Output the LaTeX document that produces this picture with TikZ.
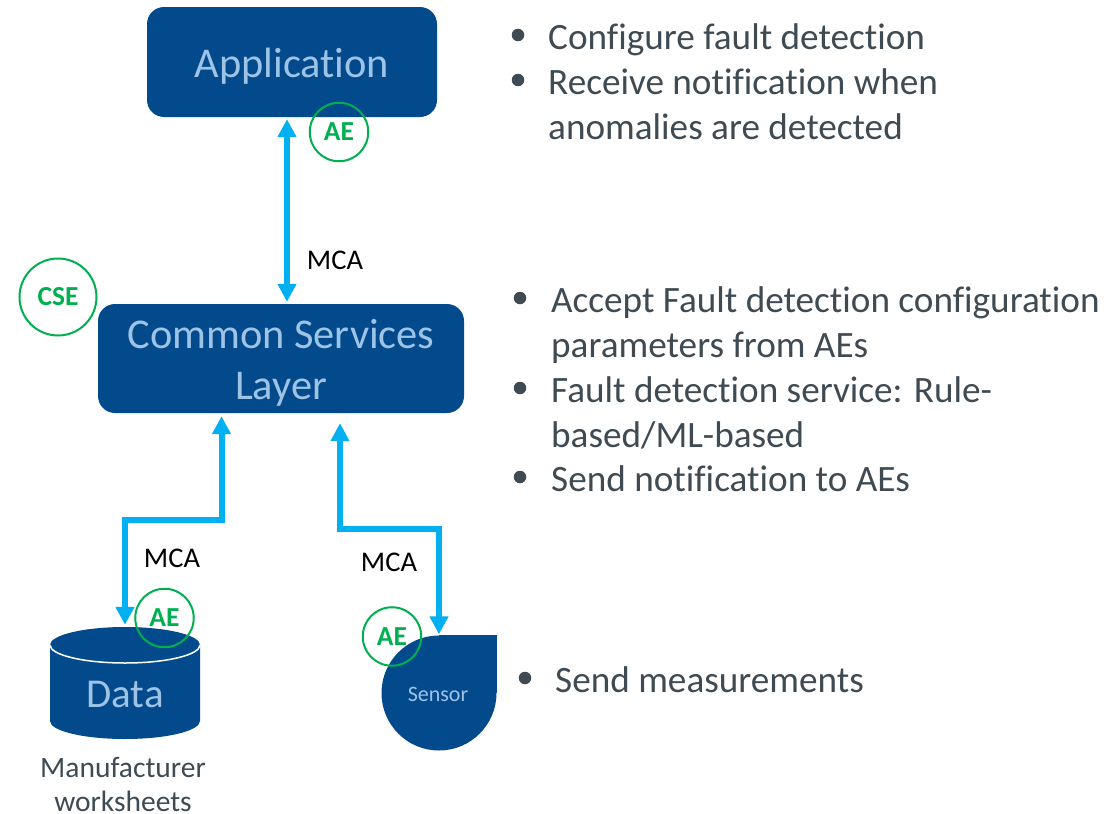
\documentclass[tikz,border=0pt]{standalone}
\usepackage{fontspec}
\setmainfont{Carlito}[Ligatures=CommonOff]
\usetikzlibrary{arrows.meta}
\definecolor{boxblue}{HTML}{034A8C}
\definecolor{boxtext}{HTML}{9DC3E6}
\definecolor{linkblue}{HTML}{00B0F0}
\definecolor{aegreen}{HTML}{00B050}
\definecolor{listgrey}{HTML}{3F4A53}
\tikzset{
  box/.style={draw=none, fill=boxblue, rectangle, rounded corners=17pt, text=boxtext, align=center, font=\fontsize{42.4}{51}\selectfont},
  tag/.style={draw=aegreen, circle, line width=2pt, inner sep=0pt, text=aegreen, font=\fontsize{27.5}{30}\selectfont\bfseries},
  link/.style={draw=linkblue, line width=6pt, {Triangle[length=18pt,width=18pt]}-{Triangle[length=18pt,width=18pt]}},
  mca/.style={text=black, inner sep=0pt, font=\fontsize{28.5}{30}\selectfont},
  dot/.style={fill=listgrey, circle, inner sep=0pt, minimum size=12.5pt},
  listtext/.style={anchor=north west, xshift=30pt, yshift=11.5pt, inner sep=0pt, align=left, text=listgrey, font=\fontsize{37.2}{44.7}\selectfont},
}
\begin{document}
\begin{tikzpicture}[x=1pt, y=-1pt]
  \useasboundingbox (0,0) rectangle (1112,814);
  % boxes
  \node[box, minimum width=290pt, minimum height=110pt] (app) at (292,62) {\rule{0pt}{38pt}Application};
  \node[box, minimum width=366pt, minimum height=109pt, node distance=296.5pt, below of=app, xshift=-11pt] (csl) {\rule{0pt}{38pt}Common Services\\Layer};
  \node[minimum width=150pt, minimum height=113pt, inner sep=0pt, node distance=325pt, below of=csl, xshift=-156pt] (data) {};
  \fill[boxblue] (50,645) arc (180:360:75 and 18) -- (200,721) arc (0:180:75 and 18) -- cycle;
  \draw[white, line width=1.5pt] (50,645) arc (180:0:75 and 18);
  \node[inner sep=0pt, text=boxtext, font=\fontsize{41}{51}\selectfont, node distance=10.5pt, below of=data] (dataname) {Data};
  \node[fill=boxblue, circle, minimum size=115pt, inner sep=0pt, node distance=334.5pt, below of=csl, xshift=158pt] (sensor) {};
  \fill[boxblue] (sensor.north) rectangle (sensor.east);
  \node[inner sep=0pt, text=boxtext, font=\fontsize{22}{26}\selectfont, node distance=1pt, below of=sensor, xshift=-1pt] (sensorname) {Sensor};
  \node[inner sep=0pt, align=center, text=listgrey, font=\fontsize{29.5}{34}\selectfont, node distance=101pt, below of=data, xshift=-2pt] (maker) {Manufacturer\\worksheets};
  % green tags
  \node[tag, minimum size=58.5pt, node distance=70pt, below of=app, xshift=47pt] (aeapp) {AE};
  \node[tag, minimum size=77pt, node distance=61.5pt, above of=csl, xshift=-223pt] (cse) {CSE};
  \node[tag, minimum size=58.5pt, node distance=65.5pt, above of=data, xshift=39.5pt] (aedata) {AE};
  \node[tag, minimum size=58.5pt, node distance=56.5pt, above of=sensor, xshift=-47pt] (aesensor) {AE};
  % links
  \draw[link, shorten <=2pt, shorten >=2pt] ([xshift=-5pt]app.south) -- ([xshift=6pt]csl.north);
  \draw[link, shorten <=3pt, shorten >=2pt] ([xshift=-59.5pt]csl.south) -- ++(0,107) -| (data.north);
  \draw[link, shorten <=10pt, shorten >=1pt] ([xshift=59pt]csl.south) -- ++(0,116) -| (sensor.north);
  \node[mca, node distance=98.5pt, above of=csl, xshift=54pt] (mcaapp) {MCA};
  \node[mca, node distance=199.5pt, below of=csl, xshift=-109pt] (mcadata) {MCA};
  \node[mca, node distance=203.5pt, below of=csl, xshift=108pt] (mcasensor) {MCA};
  % bullet lists
  \node[dot] (d1) at (518,35) {};
  \node[dot, node distance=45pt, below of=d1] (d2) {};
  \node[dot] (d3) at (520,298) {};
  \node[dot, node distance=90pt, below of=d3] (d4) {};
  \node[dot, node distance=89pt, below of=d4] (d5) {};
  \node[dot] (d6) at (525,678) {};
  \node[listtext] (t1) at (d1) {Configure fault detection};
  \node[listtext] (t2) at (d2) {Receive notification when\\anomalies are detected};
  \node[listtext, xshift=1pt] (t3) at (d3) {Accept Fault detection configuration\\parameters from AEs};
  \node[listtext, xshift=1pt] (t4) at (d4) {Fault detection service: Rule-\\based/ML-based};
  \node[listtext, xshift=1pt] (t5) at (d5) {Send notification to AEs};
  \node[listtext] (t6) at (d6) {Send measurements};
\end{tikzpicture}
\end{document}
